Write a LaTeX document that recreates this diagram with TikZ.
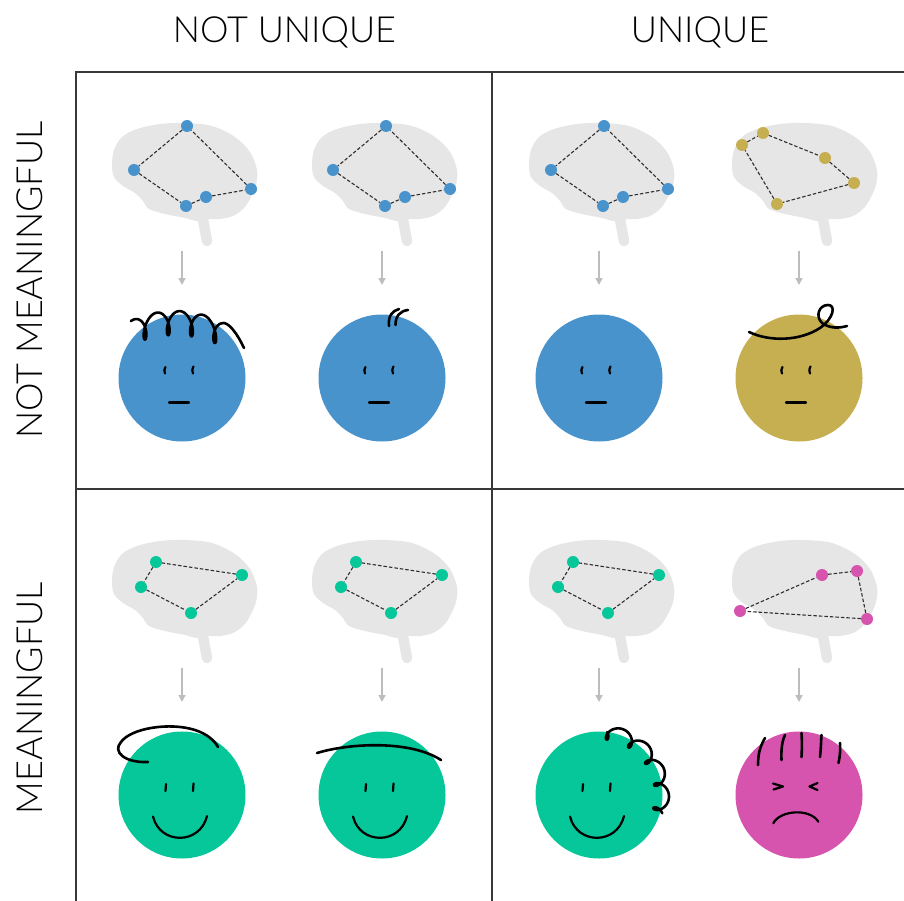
\documentclass[tikz,border=0pt]{standalone}
\usepackage{fontspec}
\setmainfont{Lato}[UprightFont={* Light}]
\usetikzlibrary{arrows.meta}

\definecolor{faceblue}{HTML}{4993CD}
\definecolor{facegold}{HTML}{C6AF50}
\definecolor{facegreen}{HTML}{05C799}
\definecolor{facepink}{HTML}{D653AE}
\definecolor{braingray}{HTML}{E6E6E6}
\definecolor{arrowgray}{HTML}{BDBDBD}
\definecolor{gridgray}{HTML}{383838}
\definecolor{linkgray}{HTML}{2E2E2E}

\tikzset{
  brain/.pic={
    % brain stem
    \draw[braingray, line width=10.5pt, line cap=round] (17,44) -- (22,71);
    % cerebrum, temporal lobe and cerebellum in one outline
    \fill[braingray] plot[smooth cycle, tension=0.55] coordinates {
      (-73,-5) (-71,-20) (-63,-33) (-48,-41) (-25,-46) (0,-47) (27,-44)
      (50,-33) (65,-18) (72,0) (71,15) (66,27) (59,38) (48,46) (35,49)
      (25,49) (12,51) (0,48) (-20,44) (-36,39) (-42,31) (-50,23)
      (-62,16) (-71,7)};
  },
  gridline/.style={draw=gridgray, line width=2.6pt},
  hdr/.style={font=\fontsize{36}{40}\selectfont, inner sep=0pt, anchor=base},
  dot/.style={circle, fill=#1, minimum size=12pt, inner sep=0pt},
  link/.style={draw=linkgray, line width=1.1pt, dash pattern=on 3.5pt off 2pt},
  face/.style={circle, fill=#1, minimum size=127pt, inner sep=0pt},
  flow/.style={draw=arrowgray, line width=1.5pt, -{Triangle[length=7pt,width=7pt]}},
  feat/.style={line width=2.2pt, line cap=round, line join=round},
  hair/.style={line width=2.6pt, line cap=round, line join=round}
}

\begin{document}
\begin{tikzpicture}[x=1pt,y=-1pt]
\useasboundingbox (0,0) rectangle (904,901);

% column and row headings
\node[hdr] (hNU) at (284.5,43) {NOT UNIQUE};
\node[hdr] (hU) at (700,43) {UNIQUE};
\node[hdr, rotate=90] (hNM) at (42,280) {NOT MEANINGFUL};
\node[hdr, rotate=90] (hM) at (42,698) {MEANINGFUL};

% the 2x2 grid
\draw[gridline] (904,72) -- (76,72) -- (76,901);
\draw[gridline] (492,72) -- (492,901);
\draw[gridline] (76,489) -- (904,489);

% brains
\foreach \bx/\by in {185/170,385/170,602/170,805/170,185/587,385/587,602/587,805/587}
  \pic at (\bx,\by) {brain};

% blue networks (top row, first three brains)
\foreach \d/\n in {0/1,199/2,417/3}{
  \node[dot=faceblue] (b\n a) at (187+\d,126) {};
  \node[dot=faceblue] (b\n b) at (134+\d,170) {};
  \node[dot=faceblue] (b\n c) at (186+\d,206) {};
  \node[dot=faceblue] (b\n d) at (206+\d,197) {};
  \node[dot=faceblue] (b\n e) at (251+\d,189) {};
  \draw[link] (b\n a) -- (b\n b) -- (b\n c) -- (b\n d) -- (b\n e) -- (b\n a);
}

% gold network
\node[dot=facegold] (g1) at (742,145) {};
\node[dot=facegold] (g2) at (763,133) {};
\node[dot=facegold] (g3) at (825,158) {};
\node[dot=facegold] (g4) at (854,183) {};
\node[dot=facegold] (g5) at (777,204) {};
\draw[link] (g1) -- (g2) -- (g3) -- (g4) -- (g5) -- (g1);

% green networks (bottom row, first three brains)
\foreach \d/\n in {0/1,200/2,417/3}{
  \node[dot=facegreen] (m\n a) at (156+\d,562) {};
  \node[dot=facegreen] (m\n b) at (141+\d,587) {};
  \node[dot=facegreen] (m\n c) at (191+\d,613) {};
  \node[dot=facegreen] (m\n d) at (242+\d,575) {};
  \draw[link] (m\n a) -- (m\n b) -- (m\n c) -- (m\n d) -- (m\n a);
}

% pink network
\node[dot=facepink] (p1) at (740,611) {};
\node[dot=facepink] (p2) at (822,575) {};
\node[dot=facepink] (p3) at (857,571) {};
\node[dot=facepink] (p4) at (867,619) {};
\draw[link] (p1) -- (p2) -- (p3) -- (p4) -- (p1);

% arrows from brains to faces
\foreach \x/\n in {182/1,382/2,599/3,799/4}{
  \coordinate (t\n s) at (\x,251);
  \coordinate (t\n e) at (\x,285);
  \draw[flow] (t\n s) -- (t\n e);
  \coordinate (u\n s) at (\x,668);
  \coordinate (u\n e) at (\x,702);
  \draw[flow] (u\n s) -- (u\n e);
}

% faces
\node[face=faceblue] (f1) at (182,378) {};
\node[face=faceblue] (f2) at (382,378) {};
\node[face=faceblue] (f3) at (599,378) {};
\node[face=facegold] (f4) at (799,378) {};
\node[face=facegreen] (f5) at (182,795) {};
\node[face=facegreen] (f6) at (382,795) {};
\node[face=facegreen] (f7) at (599,795) {};
\node[face=facepink] (f8) at (799,795) {};

% neutral expressions
\foreach \cx in {182,382,599,799}{
  \draw[feat] (\cx-16.5,367) .. controls (\cx-18,370) .. (\cx-17,373.5);
  \draw[feat] (\cx+11.5,366.5) .. controls (\cx+10,370) .. (\cx+11,373.5);
  \draw[feat] (\cx-13,402.5) -- (\cx+7,402.5);
}

% smiling expressions
\foreach \cx in {182,382,599}{
  \draw[feat] (\cx-16,784) .. controls (\cx-17,787) .. (\cx-16.5,791);
  \draw[feat] (\cx+11.5,783.5) .. controls (\cx+10.5,787) .. (\cx+11,791);
  \draw[feat] (\cx-29,816.5) .. controls (\cx-22,845) and (\cx+18,845) .. (\cx+25,816);
}

% angry expression
\draw[feat] (773,783.5) -- (783,786.5) -- (773.5,789.5);
\draw[feat] (817.5,783) -- (809.5,786.5) -- (817.5,790);
\draw[feat] (773.3,823.3) .. controls (780,810) and (810,808) .. (818.3,821.7);

% hair: curly top
\draw[hair] plot[variable=\t, domain=-3.4:21.45, samples=320, smooth]
  ({145+3.7*\t-6*sin(\t r)},
   {323+0.005*(145+3.7*\t-6*sin(\t r)-175)^2+12*cos(\t r)})
  .. controls (228,320) and (238,335) .. (244,348);

% hair: two small strands
\draw[hair] (389,326) .. controls (388,316) and (392,311) .. (399,309);
\draw[hair] (395.5,325) .. controls (395.5,316) and (400,311) .. (408,310);

% hair: single strand with a twirl
\draw[hair] (749,332) .. controls (770,342) and (800,341) .. (820,328)
  .. controls (834,318) and (836,305) .. (828,305)
  .. controls (819,305) and (815,316) .. (822,323)
  .. controls (830,329) and (840,328) .. (847,326);

% hair: swoop with a loop on the left
\draw[hair] (148,762) .. controls (125,763) and (112,752) .. (121,742)
  .. controls (131,728) and (170,722) .. (195,730)
  .. controls (207,734) and (214,740) .. (218,747);

% hair: flat sweep
\draw[hair] (317,753) .. controls (350,743) and (410,740) .. (441,760);

% hair: coil down the right side
\draw[hair] plot[variable=\t, domain=-1.6:27.1, samples=420, smooth]
  ({599+(63-7*cos(\t r))*cos(82-3.8*\t)-6*sin(\t r)*sin(82-3.8*\t)},
   {795-(63-7*cos(\t r))*sin(82-3.8*\t)-6*sin(\t r)*cos(82-3.8*\t)});

% hair: upright spikes
\draw[hair] (758,765) .. controls (758,752) and (761,745) .. (765,738);
\draw[hair] (781.5,760) .. controls (781,750) and (782,741) .. (785,735);
\draw[hair] (801.5,757) .. controls (802,748) and (802,741) .. (801.5,733);
\draw[hair] (820,757) .. controls (821,748) and (821,741) .. (821.5,735);
\draw[hair] (838.5,763) .. controls (840,756) and (840.5,750) .. (840,743);

\end{tikzpicture}
\end{document}
